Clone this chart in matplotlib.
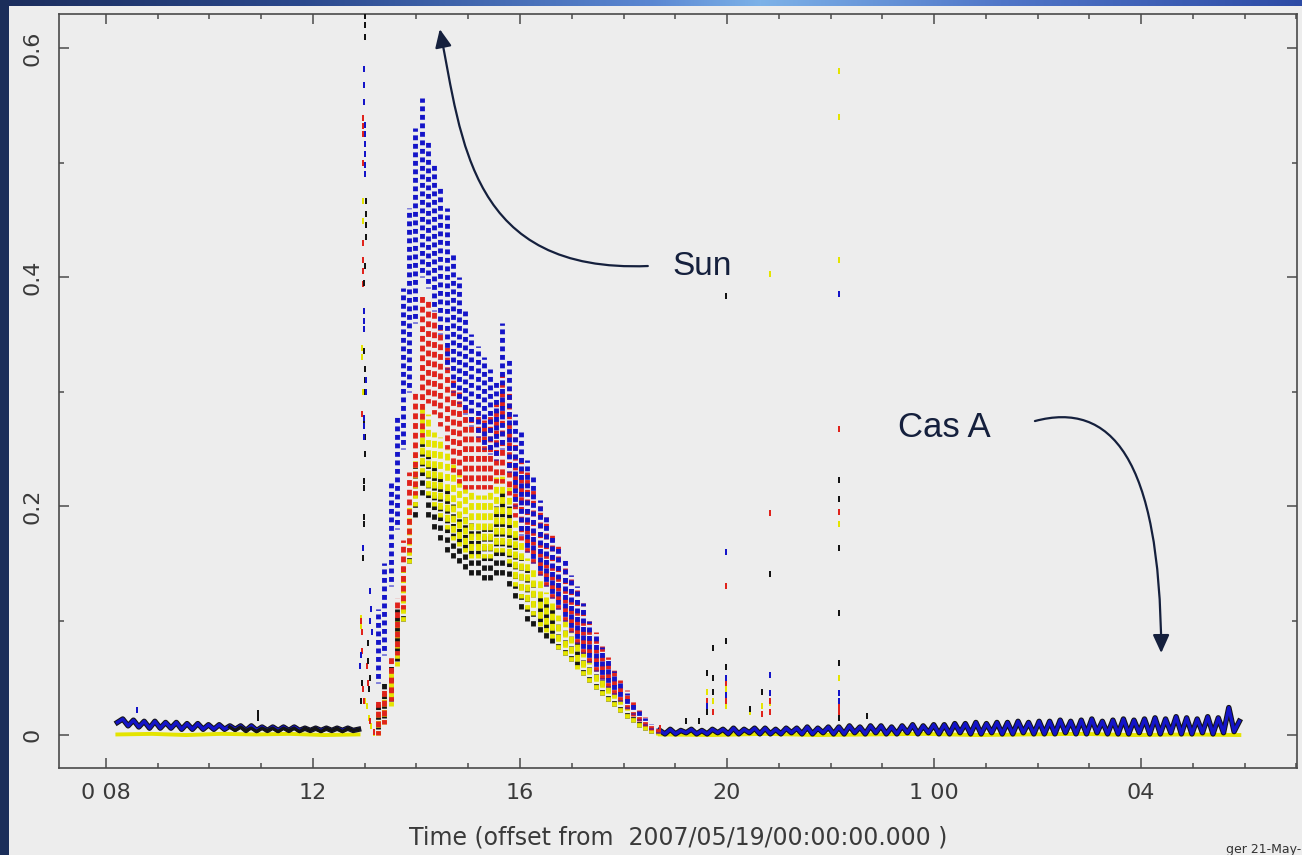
import numpy as np
import matplotlib
matplotlib.use('Agg')
import matplotlib.pyplot as plt
import matplotlib.patheffects as pe
from matplotlib.path import Path
from matplotlib.patches import FancyArrowPatch
from matplotlib.ticker import FixedLocator, MultipleLocator

########### Data : time in hours from 2007/05/19 00:00, flux (arbitrary units)
# quiet baseline before the Sun enters the beam, evenly sampled between LEFT_T0 and LEFT_T1
LEFT_T0, LEFT_T1 = 8.22, 12.88
blue_left = [.011, .014, .008, .013, .007, .012, .006, .012, .006, .011, .006, .011, .005, .010, .005, .010,
             .005, .009, .005, .009, .005, .008, .005, .008, .004, .008, .004, .007, .004, .007, .004, .007,
             .004, .007, .004, .006, .004, .006, .004, .006, .004, .006, .004, .006, .004, .005]
BLACK_LEFT_T0 = 10.39
black_left = [.007, .004, .007, .004, .006, .003, .006, .004, .006, .003, .006, .004, .006, .003, .006, .004,
              .006, .003, .006, .004, .006, .003, .006, .004, .005]
yellow_left = [.0005, .001, .0, .001, .0005, .001, .0, .0005]

# Cas A drift after the solar transit, evenly sampled between RIGHT_T0 and RIGHT_T1
RIGHT_T0, RIGHT_T1 = 18.70, 29.90
blue_right = [.004, .001, .005, .001, .004, .002, .005, .001, .004, .001, .005, .002, .005, .001,
              .006, .001, .005, .002, .006, .001, .006, .001, .005, .001, .006, .002, .006, .001, .007, .001,
              .006, .002, .007, .001,
              .007, .001, .008, .002, .007, .001, .008, .002, .008, .001, .007, .001, .008, .002, .009, .001,
              .008, .002, .009, .001,
              .009, .001, .010, .002, .010, .001, .011, .001, .010, .002, .011, .001, .011, .001, .012, .002,
              .011, .001, .012, .001,
              .012, .001, .013, .002, .012, .001, .013, .001, .014, .002, .012, .001, .013, .001, .014, .001,
              .013, .002, .014, .001,
              .015, .001, .014, .002, .016, .001, .015, .001, .014, .002, .016, .001, .015, .002, .024, .003,
              .012]
yellow_right = [.0005, .0, .001, .0, .0005, .001, .0, .0005, .001, .0, .0005, .0]

# solar transit : spread (low / high) of each channel in each time bin
hump_t = [13.26, 13.38, 13.50, 13.62, 13.74, 13.86, 13.98, 14.10, 14.22, 14.34, 14.46, 14.58, 14.70, 14.82,
          14.94, 15.06, 15.18, 15.30, 15.42, 15.54, 15.66, 15.78, 15.90, 16.02, 16.14, 16.26, 16.38, 16.50,
          16.62, 16.74, 16.86, 16.98, 17.10, 17.22, 17.34, 17.46, 17.58, 17.70, 17.82, 17.94, 18.06, 18.18,
          18.30, 18.42, 18.54, 18.66]
blue_lo = [.045, .07, .13, .18, .25, .30, .36, .40, .39, .37, .35, .32, .30, .29, .28, .27, .26, .25, .245, .24,
           .25, .23, .20, .175, .16, .15, .14, .13, .12, .11, .10, .09, .08, .072, .064, .056, .049, .042,
           .036, .03, .024, .018, .013, .009, .005, .002]
blue_hi = [.11, .15, .22, .28, .39, .46, .53, .556, .52, .50, .48, .46, .42, .40, .37, .35, .34, .33, .32, .31,
           .36, .33, .28, .265, .24, .225, .205, .19, .175, .165, .155, .14, .13, .115, .10, .088, .077, .066,
           .056, .046, .037, .029, .021, .015, .01, .006]
red_lo = [.0, .01, .03, .07, .11, .16, .21, .26, .29, .28, .27, .25, .23, .22, .215, .215, .215, .215, .215, .22,
          .22, .21, .19, .17, .16, .15, .14, .13, .12, .11, .10, .09, .08, .072, .064, .056, .049, .042, .036,
          .03, .023, .017, .012, .008, .004, .002]
red_hi = [.03, .04, .07, .12, .17, .23, .30, .385, .38, .37, .36, .34, .31, .30, .29, .285, .28, .275, .28, .29,
          .315, .30, .26, .245, .23, .215, .20, .19, .175, .165, .15, .14, .13, .115, .10, .09, .078, .068,
          .058, .048, .039, .03, .022, .016, .01, .006]
yellow_lo = [.0, .01, .025, .06, .10, .15, .20, .23, .21, .20, .19, .18, .17, .165, .16, .155, .155, .155, .155,
             .16, .16, .15, .13, .12, .11, .105, .095, .09, .085, .075, .07, .065, .058, .052, .046, .04, .035,
             .03, .025, .02, .015, .011, .007, .004, .002, .0]
yellow_hi = [.02, .035, .055, .10, .145, .20, .245, .29, .28, .265, .26, .25, .24, .23, .22, .215, .21, .21, .215,
             .225, .23, .22, .19, .17, .155, .145, .135, .125, .115, .105, .10, .09, .08, .072, .065, .058, .05,
             .044, .037, .031, .025, .019, .014, .009, .006, .003]
black_lo = [.005, .015, .03, .065, .10, .15, .19, .21, .19, .18, .17, .16, .155, .15, .145, .14, .14, .135, .135,
            .14, .14, .13, .12, .11, .10, .095, .09, .085, .08, .075, .07, .065, .06, .052, .046, .04, .035,
            .03, .025, .02, .015, .011, .007, .004, .002, .001]
black_hi = [.03, .045, .065, .11, .15, .20, .24, .255, .245, .235, .225, .215, .205, .195, .19, .185, .18, .18,
            .185, .20, .215, .20, .175, .16, .145, .135, .125, .12, .11, .10, .095, .09, .085, .075, .066, .058,
            .05, .044, .037, .031, .025, .019, .014, .009, .006, .004]

# single samples : the ingress spike and the later glitches
black_pt_t = [13.00, 13.00, 13.00, 13.02, 13.02, 13.02, 13.02, 13.00, 12.98, 12.98, 13.00, 13.00, 13.00, 12.98,
              13.00, 13.00, 12.98, 12.98, 12.98, 12.98, 12.96, 12.96, 13.06, 13.06, 13.10, 13.08, 12.92, 12.94,
              10.94, 10.94, 19.61, 19.61, 19.73, 19.73, 19.73, 19.98, 19.98, 19.98, 20.44, 20.68, 20.83,
              22.16, 22.16, 22.16, 22.16, 22.16, 22.16, 22.70, 19.20, 19.45]
black_pt_v = [.628, .620, .610, .466, .455, .445, .435, .41, .395, .335, .32, .31, .30, .275,
              .26, .245, .222, .216, .19, .184, .163, .155, .08, .065, .05, .04, .03, .045,
              .019, .015, .054, .02, .076, .05, .038, .383, .082, .059, .023, .038, .141,
              .223, .206, .163, .107, .063, .015, .017, .012, .012]
blue_pt_t = [12.98, 12.98, 12.98, 13.00, 13.00, 13.00, 13.00, 13.00, 13.00, 12.98, 12.98, 12.98, 13.02, 13.02,
             12.98, 12.98, 12.98, 12.96, 13.10, 13.12, 13.10, 13.14, 12.92, 12.90,
             8.60, 19.61, 19.98, 19.98, 19.98, 20.83, 20.83, 22.16, 22.16, 22.16]
blue_pt_v = [.582, .568, .553, .533, .525, .516, .507, .498, .49, .37, .362, .355, .31, .30,
             .277, .27, .26, .163, .126, .11, .10, .09, .07, .06,
             .022, .025, .16, .05, .035, .052, .037, .385, .037, .03]
red_pt_t = [12.96, 12.96, 12.96, 12.96, 12.96, 12.96, 12.96, 12.96, 12.94, 12.92, 12.94, 12.94, 13.04, 13.06,
            12.96, 12.98, 13.10, 13.18, 19.61, 19.73, 19.98, 19.98, 19.98, 20.68, 20.83, 20.83, 20.83,
            22.16, 22.16, 22.16, 22.16, 18.70]
red_pt_v = [.539, .532, .525, .50, .43, .415, .405, .394, .28, .10, .09, .073, .06, .045,
            .04, .03, .012, .003, .03, .02, .13, .045, .03, .018, .194, .03, .02,
            .267, .195, .025, .02, .006]
yellow_pt_t = [12.96, 12.96, 12.94, 12.94, 12.96, 12.92, 12.92, 12.94, 13.00, 13.04, 13.08, 13.12, 13.18,
               19.61, 19.73, 19.98, 19.98, 20.44, 20.68, 20.83, 20.83, 22.16, 22.16, 22.16, 22.16, 22.16]
yellow_pt_v = [.466, .449, .338, .33, .30, .102, .095, .045, .03, .025, .015, .008, .002,
               .038, .03, .04, .025, .02, .025, .403, .028, .58, .54, .415, .184, .05]

x_ticks = [8, 12, 16, 20, 24, 28]
x_tick_labels = ['0 08', '12', '16', '20', '1 00', '04']
y_ticks = [0, 0.2, 0.4, 0.6]
y_tick_labels = ['0', '0.2', '0.4', '0.6']

########### Styles
W, H = 1302, 855
BG = '#ededed'
BLUE, RED, YELLOW, BLACK = '#1414c8', '#e0231c', '#e4e400', '#141414'
NAVY = '#15203d'
plt.rcParams['font.family'] = ['DejaVu Sans']

fig = plt.figure(figsize=(W / 100, H / 100), dpi=100, facecolor=BG)

# slide frame: dark left edge and blue gradient on top
stops_x = [0, 300, 650, 760, 1000, 1302]
stops_c = np.array([[27, 45, 92], [42, 72, 140], [90, 135, 210], [125, 178, 232], [80, 118, 200], [45, 75, 165]]) / 255
xs = np.arange(W)
top = np.stack([np.interp(xs, stops_x, stops_c[:, k]) for k in range(3)], axis=-1)
fig.figimage(np.repeat(top[None, :, :], 6, axis=0), xo=0, yo=H - 6, zorder=0)
fig.figimage(np.tile(np.array([27, 46, 90]) / 255, (H, 9, 1)), xo=0, yo=0, zorder=0)

ax = fig.add_axes([59 / W, 1 - 768 / H, (1297 - 59) / W, (768 - 14) / H])
ax.set_facecolor(BG)
ax.set_xlim(7.092, 31.014)
ax.set_ylim(-0.0288, 0.6297)

# baselines
ax.plot(np.linspace(LEFT_T0, LEFT_T1, len(yellow_left)), yellow_left, color=YELLOW, lw=2.8, zorder=2)
ax.plot(np.linspace(RIGHT_T0, RIGHT_T1, len(yellow_right)), yellow_right, color=YELLOW, lw=2.8, zorder=2)
outline = [pe.Stroke(linewidth=3.9, foreground=BLACK), pe.Normal()]
ax.plot(np.linspace(LEFT_T0, LEFT_T1, len(blue_left)), blue_left, color=BLUE, lw=2.4,
        path_effects=outline, zorder=3)
ax.plot(np.linspace(BLACK_LEFT_T0, LEFT_T1, len(black_left)), black_left, color=BLACK, lw=2.4, zorder=4)
ax.plot(np.linspace(RIGHT_T0, RIGHT_T1, len(blue_right)), blue_right, color=BLUE, lw=2.4,
        path_effects=outline, zorder=3)

# transit cloud, each bin drawn as a column of dots
for lo, hi, col, z, dots in [(black_lo, black_hi, BLACK, 3.0, (0, (1.1, 0.9))),
                             (yellow_lo, yellow_hi, YELLOW, 3.2, (0.5, (1.4, 0.7))),
                             (red_lo, red_hi, RED, 3.4, (0.3, (1.2, 0.8))),
                             (blue_lo, blue_hi, BLUE, 3.6, (0.8, (1.0, 0.75)))]:
    ax.vlines(hump_t, lo, hi, colors=col, linewidth=3.5, linestyles=dots, zorder=z)

dash = [(-0.5, -1), (0.5, -1), (0.5, 1), (-0.5, 1)]
for tt, vv, col in [(yellow_pt_t, yellow_pt_v, YELLOW), (red_pt_t, red_pt_v, RED),
                    (black_pt_t, black_pt_v, BLACK), (blue_pt_t, blue_pt_v, BLUE)]:
    ax.scatter(tt, vv, s=18, marker=dash, color=col, linewidths=0, zorder=5)

# axes look
for sp in ax.spines.values():
    sp.set_color('#4a4a4a')
    sp.set_linewidth(1.2)
ax.xaxis.set_major_locator(FixedLocator(x_ticks))
ax.set_xticklabels(x_tick_labels)
ax.xaxis.set_minor_locator(MultipleLocator(1))
ax.yaxis.set_major_locator(FixedLocator(y_ticks))
ax.set_yticklabels(y_tick_labels)
ax.yaxis.set_minor_locator(MultipleLocator(0.1))
ax.tick_params(which='both', direction='in', top=True, right=True, color='#4a4a4a', width=1.1)
ax.tick_params(which='major', length=7.5)
ax.tick_params(which='minor', length=3.8)
ax.tick_params(axis='x', labelsize=16, labelcolor='#3a3a3a', pad=11)
ax.tick_params(axis='y', labelsize=16, labelcolor='#3a3a3a', pad=12, labelrotation=90)
for lab in ax.get_yticklabels():
    lab.set_va('center')

fig.text(678 / W, 1 - 837 / H, 'Time (offset from  2007/05/19/00:00:00.000 )', ha='center', va='center',
         fontsize=17, color='#3a3a3a')
fig.text(1226 / W, 1 - 849 / H, 'ger 21-May-', ha='left', va='center', fontsize=9, color='#333333')

# annotations
ax.text(19.52, 0.4096, 'Sun', ha='center', va='center', fontsize=24, color=NAVY, family='Liberation Sans')
ax.text(24.19, 0.2689, 'Cas A', ha='center', va='center', fontsize=25, color=NAVY, family='Liberation Sans')
curve = [Path.MOVETO, Path.CURVE4, Path.CURVE4, Path.CURVE4]
sun_path = Path([(18.47, 0.4096), (15.03, 0.4035), (14.88, 0.5187), (14.45, 0.6165)], curve)
cas_path = Path([(25.95, 0.2742), (27.40, 0.2917), (28.37, 0.2436), (28.39, 0.0716)], curve)
for p in (sun_path, cas_path):
    ax.add_patch(FancyArrowPatch(path=p, arrowstyle='-|>,head_length=0.55,head_width=0.25',
                                 mutation_scale=20, color=NAVY, lw=1.6, clip_on=False, zorder=6))

fig.savefig('out.png', dpi=100, facecolor=BG)
